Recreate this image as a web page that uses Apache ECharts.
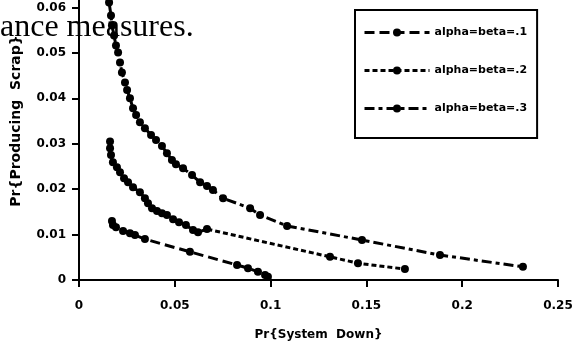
<!DOCTYPE html>
<html>
<head>
<meta charset="utf-8">
<script src="https://cdn.jsdelivr.net/npm/echarts@6/dist/echarts.min.js"></script>
<style>
  html, body { margin: 0; padding: 0; background: #fff; }
  #chart { width: 572px; height: 347px; }
</style>
</head>
<body>
<div id="chart"></div>
<script>
// Pr{System Down} (x) and Pr{Producing Scrap} (y)
const names = ['alpha=beta=.1', 'alpha=beta=.2', 'alpha=beta=.3'];

const down1 = [0.0172, 0.0177, 0.0193, 0.0230, 0.0266, 0.0292, 0.0344, 0.0579, 0.0825, 0.0882, 0.0934, 0.0971, 0.0986];
const scrap1 = [0.0130, 0.0121, 0.0116, 0.0108, 0.0103, 0.0099, 0.0090, 0.0062, 0.0033, 0.0026, 0.0018, 0.0011, 0.0007];

const down2 = [0.0162, 0.0162, 0.0167, 0.0177, 0.0198, 0.0214, 0.0235, 0.0256, 0.0282, 0.0318, 0.0344, 0.0360, 0.0381, 0.0407,
  0.0433, 0.0459, 0.0491, 0.0522, 0.0558, 0.0595, 0.0621, 0.0668, 0.1310, 0.1456, 0.1701];
const scrap2 = [0.0305, 0.0290, 0.0275, 0.0259, 0.0248, 0.0237, 0.0224, 0.0215, 0.0204, 0.0193, 0.0180, 0.0169, 0.0158, 0.0152,
  0.0147, 0.0143, 0.0134, 0.0127, 0.0121, 0.0110, 0.0105, 0.0112, 0.0051, 0.0037, 0.0024];

const down3 = [0.0157, 0.0167, 0.0172, 0.0183, 0.0193, 0.0204, 0.0214, 0.0224, 0.0240, 0.0251, 0.0266, 0.0282, 0.0298, 0.0318,
  0.0344, 0.0376, 0.0402, 0.0433, 0.0459, 0.0485, 0.0506, 0.0543, 0.0590, 0.0632, 0.0668, 0.0699, 0.0752, 0.0893, 0.0945,
  0.1086, 0.1477, 0.1884, 0.2317];
const scrap3 = [0.0611, 0.0582, 0.0560, 0.0538, 0.0516, 0.0501, 0.0479, 0.0457, 0.0435, 0.0418, 0.0400, 0.0378, 0.0363, 0.0347,
  0.0334, 0.0319, 0.0308, 0.0295, 0.0279, 0.0264, 0.0255, 0.0246, 0.0231, 0.0215, 0.0207, 0.0198, 0.0180, 0.0158, 0.0143,
  0.0119, 0.0088, 0.0055, 0.0029];

const xTicks = [0, 0.05, 0.1, 0.15, 0.2, 0.25];
const yTicks = [0, 0.01, 0.02, 0.03, 0.04, 0.05, 0.06, 0.07];

const dashes = [[10, 5], [5, 3], [10, 4, 4, 4]];
const sets = [[down1, scrap1], [down2, scrap2], [down3, scrap3]];

const font = '"DejaVu Sans", sans-serif';
const fmt = (v) => String(+v.toFixed(2));

const chart = echarts.init(document.getElementById('chart'));

const axisBase = {
  type: 'value',
  axisLine: { show: true, lineStyle: { color: '#000', width: 2 } },
  splitLine: { show: false },
  axisTick: { show: true, length: 7, lineStyle: { color: '#000', width: 2 } },
  axisLabel: { color: '#000', fontFamily: font, fontWeight: 'bold', fontSize: 12, formatter: fmt },
};
// second copy of each axis only draws the inner half of the crossing ticks
const innerTicks = {
  type: 'value',
  axisLine: { show: false },
  splitLine: { show: false },
  axisLabel: { show: false },
  axisTick: { show: true, inside: true, length: 6, lineStyle: { color: '#000', width: 2 } },
};

const option = {
  backgroundColor: '#fff',
  animation: false,
  // the scan is cut off at the top, the 0.07 end of the y axis lies above the page
  grid: { left: 79, right: 14, top: -38, bottom: 67, outerBoundsMode: 'none', containLabel: false },
  graphic: [
    {
      type: 'text', left: 0, top: 12, z: 0,
      style: { text: 'ance measures.', font: '32px "Liberation Serif", serif', fill: '#000' },
    },
  ],
  legend: {
    left: 355, top: 10, orient: 'vertical',
    borderColor: '#000', borderWidth: 2, borderRadius: 0,
    padding: [17, 10, 24, 8],
    itemWidth: 65, itemHeight: 10, itemGap: 27,
    lineStyle: { width: 3 },
    textStyle: { color: '#000', fontFamily: font, fontWeight: 'bold', fontSize: 11 },
    data: names,
  },
  xAxis: [
    Object.assign({}, axisBase, {
      min: xTicks[0], max: xTicks[xTicks.length - 1], interval: 0.05,
      name: 'Pr{System  Down}', nameLocation: 'middle', nameGap: 49,
      nameTextStyle: { color: '#000', fontFamily: font, fontWeight: 'bold', fontSize: 12 },
      axisLabel: Object.assign({}, axisBase.axisLabel, { margin: 20 }),
    }),
    Object.assign({}, innerTicks, { min: xTicks[0], max: xTicks[xTicks.length - 1], interval: 0.05 }),
  ],
  yAxis: [
    Object.assign({}, axisBase, {
      min: yTicks[0], max: yTicks[yTicks.length - 1], interval: 0.01,
      name: 'Pr{Producing  Scrap}', nameLocation: 'middle', nameGap: 56,
      nameTextStyle: { color: '#000', fontFamily: font, fontWeight: 'bold', fontSize: 14 },
      axisLabel: Object.assign({}, axisBase.axisLabel, { margin: 13 }),
    }),
    Object.assign({}, innerTicks, { min: yTicks[0], max: yTicks[yTicks.length - 1], interval: 0.01 }),
  ],
  series: sets.map((s, i) => ({
    name: names[i],
    type: 'line',
    xAxisIndex: 0,
    yAxisIndex: 0,
    z: 3,
    data: s[0].map((x, j) => [x, s[1][j]]),
    symbol: 'circle',
    symbolSize: 8,
    showAllSymbol: true,
    itemStyle: { color: '#000' },
    lineStyle: { color: '#000', width: 3, type: dashes[i], cap: 'butt' },
  })),
};

chart.setOption(option);
</script>
</body>
</html>
